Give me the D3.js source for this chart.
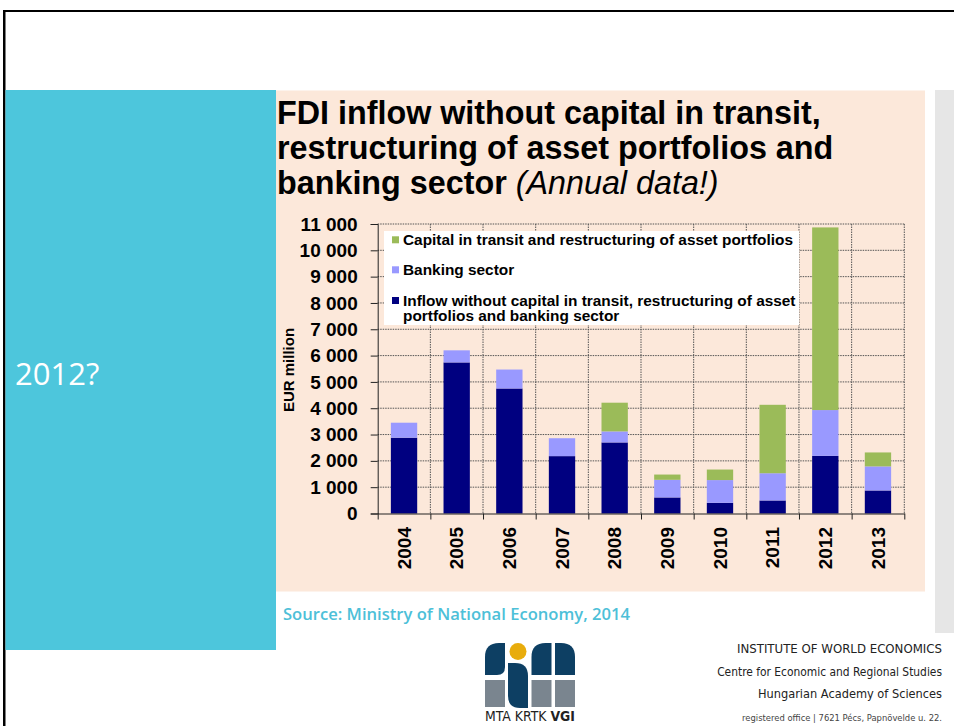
<!DOCTYPE html>
<html>
<head>
<meta charset="utf-8">
<script src="https://cdn.jsdelivr.net/npm/d3@7"></script>
<style>
  html, body { margin: 0; padding: 0; background: #fff; }
  svg { display: block; }
</style>
</head>
<body>
<div id="slide"></div>
<script>
/* ===== FDI inflow slide ===== */

const years = [2004, 2005, 2006, 2007, 2008, 2009, 2010, 2011, 2012, 2013];
// EUR million
const inflowCore = [2880, 5740, 4750, 2180, 2700, 610, 405, 495, 2190, 875];
const bankingSector = [570, 460, 720, 680, 420, 670, 865, 1035, 1740, 915];
const capitalTransit = [0, 0, 0, 0, 1090, 200, 400, 2600, 6940, 530];
const yTicks = [0, 1000, 2000, 3000, 4000, 5000, 6000, 7000, 8000, 9000, 10000, 11000];

const seriesKeys = ['core', 'banking', 'transit'];
const seriesColors = { core: '#000080', banking: '#9999ff', transit: '#9bbb59' };
const legendItems = [
  { key: 'transit', lines: ['Capital in transit and restructuring of asset portfolios'] },
  { key: 'banking', lines: ['Banking sector'] },
  { key: 'core', lines: ['Inflow without capital in transit, restructuring of asset', 'portfolios and banking sector'] }
];
const titleLines = ['FDI inflow without capital in transit,', 'restructuring of asset portfolios and', 'banking sector '];
const footerLines = ['INSTITUTE OF WORLD ECONOMICS', 'Centre for Economic and Regional Studies', 'Hungarian Academy of Sciences'];

const W = 954, H = 726;
const chartFont = '"Liberation Sans", Arial, sans-serif';
const narrowFont = '"Liberation Sans Narrow", "DejaVu Sans Condensed", sans-serif';

const svg = d3.select('#slide')
  .append('svg')
  .attr('width', W)
  .attr('height', H);

/* ---- Slide frame ---- */
svg.append('rect').attr('x', 0).attr('y', 0).attr('width', W).attr('height', H).attr('fill', '#fff');
svg.append('rect').attr('x', 3).attr('y', 10).attr('width', W - 3).attr('height', 2).attr('fill', '#000');
svg.append('rect').attr('x', 3).attr('y', 10).attr('width', 2.5).attr('height', H - 10).attr('fill', '#000');

// left cyan panel
svg.append('rect').attr('x', 5.5).attr('y', 90).attr('width', 270.5).attr('height', 560).attr('fill', '#4dc6dc');
svg.append('text')
  .attr('x', 15)
  .attr('y', 385)
  .attr('fill', '#fff')
  .attr('font-family', '"Open Sans", "Noto Sans", sans-serif')
  .attr('font-size', '31px')
  .text('2012?');

// peach chart panel and grey strip
svg.append('rect').attr('x', 276).attr('y', 90.5).attr('width', 649).attr('height', 501).attr('fill', '#fce8da');
svg.append('rect').attr('x', 935).attr('y', 90).attr('width', 19).attr('height', 543).attr('fill', '#e6e6e6');

/* ---- Title ---- */
const title = svg.append('text')
  .attr('font-family', chartFont)
  .attr('font-size', '32.3px')
  .attr('font-weight', 'bold')
  .attr('fill', '#000');
titleLines.forEach((t, i) => {
  title.append('tspan').attr('x', 277).attr('y', 123.5 + i * 35).text(t);
});
title.append('tspan')
  .attr('font-weight', 'normal')
  .attr('font-style', 'italic')
  .text('(Annual data!)');

/* ---- Chart ---- */
const plot = { left: 377.7, right: 904.3, top: 224, bottom: 513.5 };

const x = d3.scaleBand()
  .domain(years)
  .range([plot.left, plot.right])
  .paddingInner(0.5)
  .paddingOuter(0.25);

// category boundaries for gridlines / ticks
const xb = d3.scaleLinear()
  .domain([0, years.length])
  .range([plot.left, plot.right]);

const y = d3.scaleLinear()
  .domain([0, 11000])
  .range([plot.bottom, plot.top]);

const g = svg.append('g');

// Grid
g.append('g')
  .selectAll('line')
  .data(yTicks.slice(1))
  .join('line')
  .attr('x1', plot.left).attr('x2', plot.right)
  .attr('y1', d => y(d)).attr('y2', d => y(d))
  .attr('stroke', '#555')
  .attr('stroke-width', 1)
  .attr('stroke-dasharray', '1.5,1');

g.append('g')
  .selectAll('line')
  .data(d3.range(1, years.length + 1))
  .join('line')
  .attr('x1', d => xb(d)).attr('x2', d => xb(d))
  .attr('y1', plot.top).attr('y2', plot.bottom)
  .attr('stroke', '#555')
  .attr('stroke-width', 1)
  .attr('stroke-dasharray', '1.5,1');

// Stacked bars
const rows = years.map((yr, i) => ({
  year: yr,
  core: inflowCore[i],
  banking: bankingSector[i],
  transit: capitalTransit[i]
}));
const stacked = d3.stack().keys(seriesKeys)(rows);

g.append('g')
  .selectAll('g')
  .data(stacked)
  .join('g')
  .attr('fill', d => seriesColors[d.key])
  .selectAll('rect')
  .data(d => d.filter(s => s[1] > s[0]))
  .join('rect')
  .attr('x', d => x(d.data.year))
  .attr('y', d => y(d[1]))
  .attr('width', x.bandwidth())
  .attr('height', d => y(d[0]) - y(d[1]));

// Y axis
const fmtThousands = d3.formatLocale({ thousands: ' ', grouping: [3], decimal: '.', currency: ['', ''] }).format(',');

const yAxis = g.append('g')
  .attr('transform', `translate(${plot.left},0)`)
  .call(d3.axisLeft(y).tickValues(yTicks).tickSize(7).tickPadding(13).tickFormat(fmtThousands));
yAxis.select('.domain').attr('stroke', '#222');
yAxis.selectAll('.tick line').attr('stroke', '#222');
yAxis.selectAll('text')
  .attr('font-family', chartFont)
  .attr('font-size', '19px')
  .attr('font-weight', 'bold')
  .attr('fill', '#000');

// X axis (ticks at category boundaries)
const xAxis = g.append('g')
  .attr('transform', `translate(0,${plot.bottom})`)
  .call(d3.axisBottom(xb).tickValues(d3.range(0, years.length + 1)).tickSize(6).tickSizeOuter(0).tickFormat(''));
xAxis.select('.domain').attr('stroke', '#222');
xAxis.selectAll('.tick line').attr('stroke', '#222');

g.append('g')
  .selectAll('text')
  .data(years)
  .join('text')
  .attr('transform', d => `translate(${x(d) + x.bandwidth() / 2},527) rotate(-90)`)
  .attr('dy', '0.35em')
  .attr('text-anchor', 'end')
  .attr('font-family', chartFont)
  .attr('font-size', '19px')
  .attr('font-weight', 'bold')
  .attr('fill', '#000')
  .text(d => d);

// Y axis title
svg.append('text')
  .attr('transform', 'translate(294,370) rotate(-90)')
  .attr('text-anchor', 'middle')
  .attr('font-family', chartFont)
  .attr('font-size', '15px')
  .attr('font-weight', 'bold')
  .attr('fill', '#000')
  .text('EUR million');

// Legend
const legend = svg.append('g');
legend.append('rect')
  .attr('x', 384).attr('y', 231)
  .attr('width', 415).attr('height', 94)
  .attr('fill', '#fff');

const legendRowY = [244.8, 274.8, 305.5];
legendItems.forEach((item, i) => {
  legend.append('rect')
    .attr('x', 392).attr('y', legendRowY[i] - 8.5)
    .attr('width', 7).attr('height', 7)
    .attr('fill', seriesColors[item.key]);
  item.lines.forEach((line, j) => {
    legend.append('text')
      .attr('x', 403)
      .attr('y', legendRowY[i] + j * 15.5)
      .attr('font-family', chartFont)
      .attr('font-size', '15.4px')
      .attr('font-weight', 'bold')
      .attr('fill', '#000')
      .text(line);
  });
});

/* ---- Source ---- */
svg.append('text')
  .attr('x', 283)
  .attr('y', 620)
  .attr('fill', '#4dc0d8')
  .attr('font-family', '"Open Sans", "Noto Sans", sans-serif')
  .attr('font-size', '16.6px')
  .attr('font-weight', '600')
  .text('Source: Ministry of National Economy, 2014');

/* ---- Footer logo ---- */
const logo = svg.append('g');
const navy = '#0d3f63', grey = '#7a858f';
// top-left rounded block, col 1
logo.append('path').attr('fill', navy)
  .attr('d', 'M485,675 L485,657 Q485,643 499,643 L505,643 L505,667 Q505,675 497,675 Z');
// col 2: circle + long piece
logo.append('circle').attr('cx', 518).attr('cy', 651.5).attr('r', 8.5).attr('fill', '#e8ac0c');
logo.append('path').attr('fill', navy)
  .attr('d', 'M508,663 L515,663 Q528,663 528,676 L528,708 L520,708 Q508,708 508,696 Z');
// col 3 and 4
logo.append('path').attr('fill', navy)
  .attr('d', 'M531.5,675 L531.5,657 Q531.5,643 545.5,643 L551.5,643 L551.5,675 Z');
logo.append('path').attr('fill', navy)
  .attr('d', 'M555,675 L555,643 L561,643 Q575,643 575,657 L575,675 Z');
[485, 531.5, 555].forEach(x0 => {
  logo.append('rect').attr('x', x0).attr('y', 680).attr('width', 20).attr('height', 27).attr('fill', grey);
});

// fit a text to a target width by adjusting its font size
function fitWidth(sel, target, base) {
  sel.each(function () {
    const len = this.getComputedTextLength();
    if (len > 0) d3.select(this).attr('font-size', (base * target / len).toFixed(2) + 'px');
  });
}

const logoText = logo.append('text')
  .attr('x', 530)
  .attr('y', 721)
  .attr('text-anchor', 'middle')
  .attr('font-family', narrowFont)
  .attr('font-size', '14px')
  .attr('fill', '#222');
logoText.append('tspan').text('MTA KRTK ');
logoText.append('tspan').attr('font-weight', 'bold').text('VGI');
fitWidth(logoText, 90, 14);

/* ---- Footer text ---- */
const footerWidths = [205, 225, 184];
svg.append('g')
  .selectAll('text')
  .data(footerLines)
  .join('text')
  .attr('x', 942)
  .attr('y', (d, i) => 653 + i * 22.5)
  .attr('text-anchor', 'end')
  .attr('font-family', narrowFont)
  .attr('font-size', '14px')
  .attr('fill', '#222')
  .text(d => d)
  .each(function (d, i) { fitWidth(d3.select(this), footerWidths[i], 14); });

const regText = svg.append('text')
  .attr('x', 942)
  .attr('y', 721)
  .attr('text-anchor', 'end')
  .attr('font-family', narrowFont)
  .attr('font-size', '9.5px')
  .attr('fill', '#444')
  .text('registered office  |  7621 Pécs, Papnövelde u. 22.');
fitWidth(regText, 200, 9.5);
</script>
</body>
</html>
